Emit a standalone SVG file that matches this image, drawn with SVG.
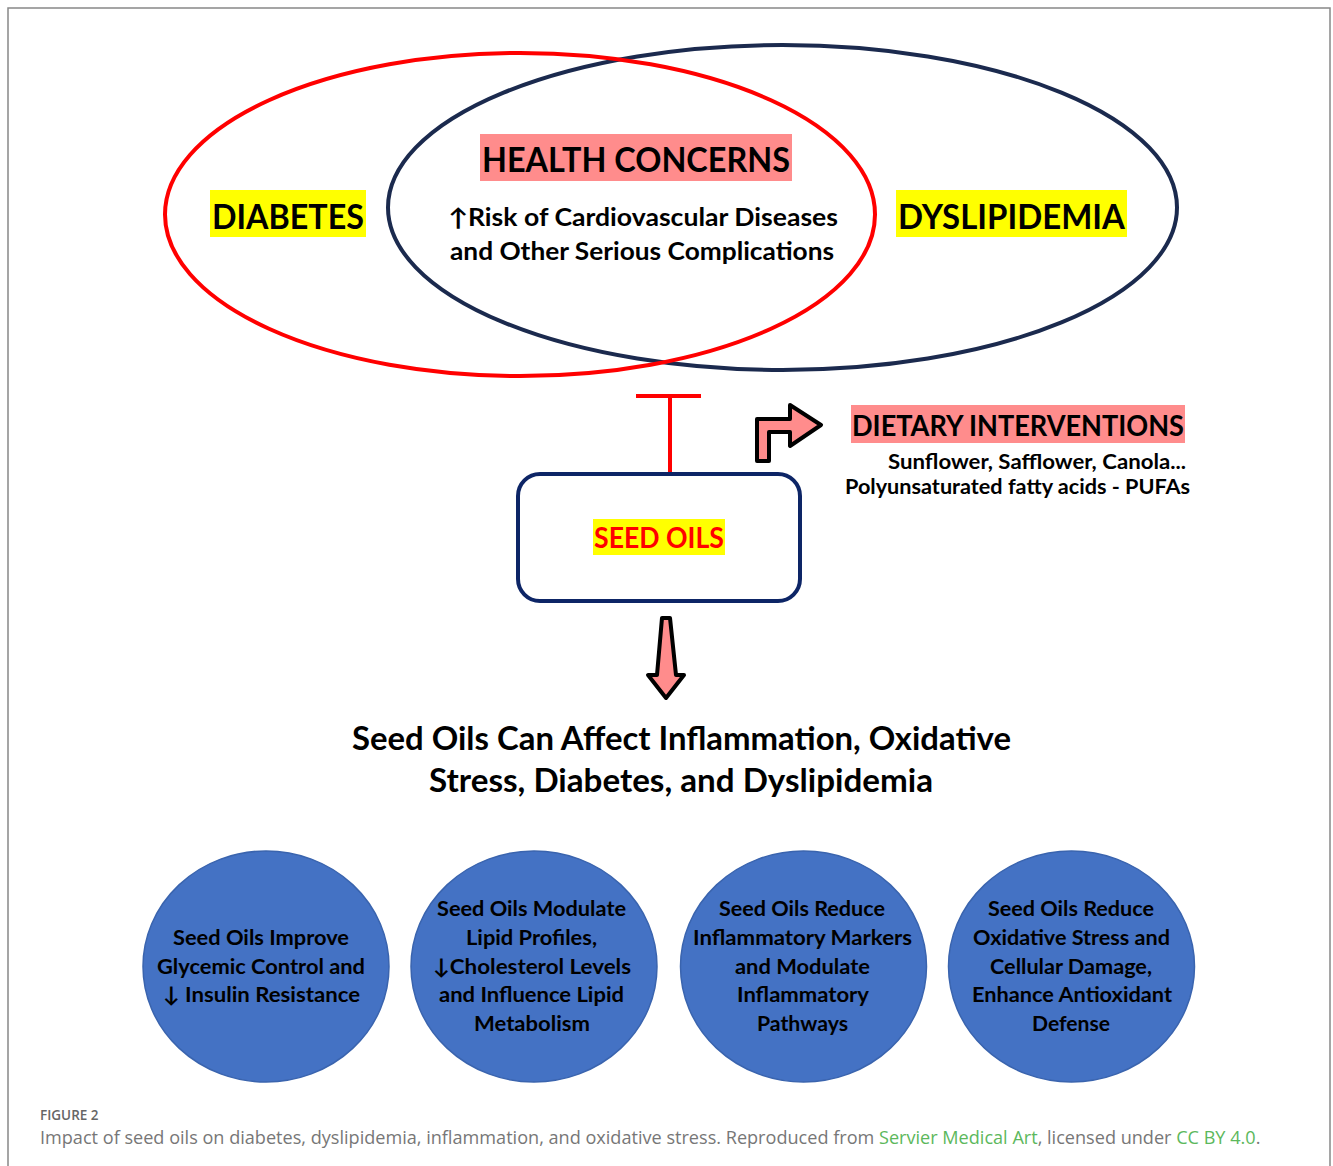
<svg xmlns="http://www.w3.org/2000/svg" width="1333" height="1166" viewBox="0 0 1333 1166">
<style>
.b{font-family:Lato,"Open Sans","Liberation Sans",sans-serif;font-weight:bold;fill:#000}
.c{text-anchor:middle}
.circ{fill:#4472C4;stroke:#3a64ae;stroke-width:1.5}
.ct{font-family:Lato,"Open Sans","Liberation Sans",sans-serif;font-weight:bold;font-size:21.5px;fill:#000;text-anchor:middle}
.cap{font-family:"Open Sans","Liberation Sans",sans-serif}
.arr{fill:#FF8C8C;stroke:#000;stroke-width:4;stroke-linejoin:round}
</style>
<rect width="1333" height="1166" fill="#fff"/>
<path d="M8,1170 L8,8 L1330,8 L1330,1170" fill="none" stroke="#888" stroke-width="1.5"/>
<g id="ellipse-dyslipidemia">
<ellipse cx="782.5" cy="207.5" rx="394.5" ry="162.5" fill="none" stroke="#1B2A4E" stroke-width="4"/>
</g>
<g id="ellipse-diabetes">
<ellipse cx="520" cy="214.5" rx="355" ry="161.5" fill="none" stroke="#FF0000" stroke-width="4"/>
</g>
<g id="diabetes">
<rect x="210" y="190" width="156" height="47" fill="#FFFF00"/>
<text class="b c" x="288" y="229" font-size="34" textLength="152" lengthAdjust="spacingAndGlyphs">DIABETES</text>
</g>
<g id="dyslipidemia">
<rect x="896" y="190" width="231" height="47" fill="#FFFF00"/>
<text class="b c" x="1011.5" y="229" font-size="34" textLength="227" lengthAdjust="spacingAndGlyphs">DYSLIPIDEMIA</text>
</g>
<g id="health-concerns">
<rect x="480" y="134" width="312" height="47" fill="#FF8C8C"/>
<text class="b c" x="636" y="172" font-size="34" textLength="308" lengthAdjust="spacingAndGlyphs">HEALTH CONCERNS</text>
<text class="b c" x="643" y="226" font-size="24" textLength="390" lengthAdjust="spacingAndGlyphs">↑Risk of Cardiovascular Diseases</text>
<text class="b c" x="642" y="260" font-size="24" textLength="384" lengthAdjust="spacingAndGlyphs">and Other Serious Complications</text>
</g>
<g id="connectors">
<path d="M670,472 L670,396 M636,396 L701,396" fill="none" stroke="#FF0000" stroke-width="4"/>
<path class="arr" d="M757,461 L757,419 L790,419 L790,405 L821,425 L790,446 L790,432 L769,432 L769,461 Z"/>
<path class="arr" d="M662,618 L670,618 L676,675 L684,675 L666,698 L648,675 L657,675 Z"/>
</g>
<g id="seed-oils">
<rect x="518" y="474" width="282" height="127" rx="22" fill="#fff" stroke="#0D2566" stroke-width="4"/>
<rect x="593" y="519" width="132" height="36" fill="#FFFF00"/>
<text class="b c" x="659" y="548" font-size="28" style="fill:#FF0000" textLength="130" lengthAdjust="spacingAndGlyphs">SEED OILS</text>
</g>
<g id="dietary-interventions">
<rect x="851" y="405" width="334" height="38" fill="#FF8C8C"/>
<text class="b c" x="1018" y="436" font-size="29" textLength="332" lengthAdjust="spacingAndGlyphs">DIETARY INTERVENTIONS</text>
<text class="b c" x="1037" y="469" font-size="21" textLength="298" lengthAdjust="spacingAndGlyphs">Sunflower, Safflower, Canola...</text>
<text class="b c" x="1017.5" y="494" font-size="21" textLength="345" lengthAdjust="spacingAndGlyphs">Polyunsaturated fatty acids - PUFAs</text>
</g>
<g id="title">
<text class="b c" x="681.5" y="750" font-size="32" textLength="659" lengthAdjust="spacingAndGlyphs">Seed Oils Can Affect Inflammation, Oxidative</text>
<text class="b c" x="681" y="792" font-size="32" textLength="504" lengthAdjust="spacingAndGlyphs">Stress, Diabetes, and Dyslipidemia</text>
</g>
<g id="circle-glycemic">
<ellipse class="circ" cx="266" cy="966.5" rx="123" ry="115.5"/>
<text class="ct" x="261" y="945" textLength="176" lengthAdjust="spacingAndGlyphs">Seed Oils Improve</text>
<text class="ct" x="261" y="974" textLength="208" lengthAdjust="spacingAndGlyphs">Glycemic Control and</text>
<text class="ct" x="261.5" y="1002" textLength="197" lengthAdjust="spacingAndGlyphs">↓ Insulin Resistance</text>
</g>
<g id="circle-lipid">
<ellipse class="circ" cx="534" cy="966.5" rx="123" ry="115.5"/>
<text class="ct" x="531.5" y="916" textLength="189" lengthAdjust="spacingAndGlyphs">Seed Oils Modulate</text>
<text class="ct" x="531.5" y="945" textLength="131" lengthAdjust="spacingAndGlyphs">Lipid Profiles,</text>
<text class="ct" x="532" y="974" textLength="198" lengthAdjust="spacingAndGlyphs">↓Cholesterol Levels</text>
<text class="ct" x="531.5" y="1002" textLength="185" lengthAdjust="spacingAndGlyphs">and Influence Lipid</text>
<text class="ct" x="532" y="1031" textLength="116" lengthAdjust="spacingAndGlyphs">Metabolism</text>
</g>
<g id="circle-inflammation">
<ellipse class="circ" cx="803.5" cy="966.5" rx="123" ry="115.5"/>
<text class="ct" x="802" y="916" textLength="166" lengthAdjust="spacingAndGlyphs">Seed Oils Reduce</text>
<text class="ct" x="802.5" y="945" textLength="219" lengthAdjust="spacingAndGlyphs">Inflammatory Markers</text>
<text class="ct" x="802.5" y="974" textLength="135" lengthAdjust="spacingAndGlyphs">and Modulate</text>
<text class="ct" x="803" y="1002" textLength="132" lengthAdjust="spacingAndGlyphs">Inflammatory</text>
<text class="ct" x="802.5" y="1031" textLength="91" lengthAdjust="spacingAndGlyphs">Pathways</text>
</g>
<g id="circle-oxidative">
<ellipse class="circ" cx="1071.5" cy="966.5" rx="123" ry="115.5"/>
<text class="ct" x="1071" y="916" textLength="166" lengthAdjust="spacingAndGlyphs">Seed Oils Reduce</text>
<text class="ct" x="1071.5" y="945" textLength="197" lengthAdjust="spacingAndGlyphs">Oxidative Stress and</text>
<text class="ct" x="1071" y="974" textLength="162" lengthAdjust="spacingAndGlyphs">Cellular Damage,</text>
<text class="ct" x="1072" y="1002" textLength="200" lengthAdjust="spacingAndGlyphs">Enhance Antioxidant</text>
<text class="ct" x="1071" y="1031" textLength="78" lengthAdjust="spacingAndGlyphs">Defense</text>
</g>
<g id="caption">
<text class="cap" x="40" y="1120" font-size="13.5" font-weight="600" fill="#666">FIGURE 2</text>
<text class="cap" x="40" y="1144" font-size="18.1" fill="#777">Impact of seed oils on diabetes, dyslipidemia, inflammation, and oxidative stress. Reproduced from <tspan fill="#5cb85c">Servier Medical Art</tspan>, licensed under <tspan fill="#5cb85c">CC BY 4.0</tspan>.</text>
</g>
</svg>
